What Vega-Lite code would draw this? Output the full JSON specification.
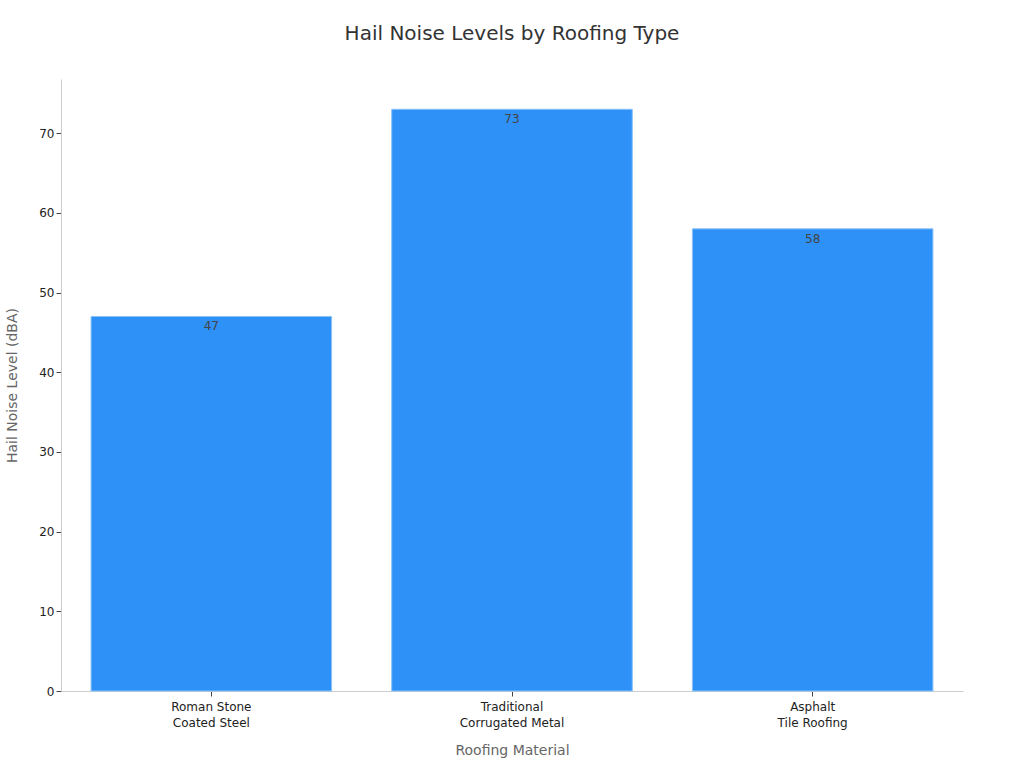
{
  "$schema": "https://vega.github.io/schema/vega-lite/v6.json",
  "width": 902,
  "height": 612,
  "padding": {"left": 5, "top": 24, "right": 5, "bottom": 5},
  "title": {"text": "Hail Noise Levels by Roofing Type", "fontSize": 20, "font": "DejaVu Sans", "fontWeight": "normal", "color": "#333333", "offset": 35},
  "data": {
    "values": [
      {"material": "Roman Stone\nCoated Steel", "noise": 47},
      {"material": "Traditional\nCorrugated Metal", "noise": 73},
      {"material": "Asphalt\nTile Roofing", "noise": 58}
    ]
  },
  "encoding": {
    "x": {
      "field": "material", "type": "nominal", "sort": null,
      "title": "Roofing Material",
      "scale": {"paddingInner": 0.2, "paddingOuter": 0.1},
      "axis": {"labelAngle": 0, "labelExpr": "split(datum.label, '\\n')", "labelLineHeight": 16, "labelPadding": 5, "titlePadding": 15}
    },
    "y": {
      "field": "noise", "type": "quantitative",
      "title": "Hail Noise Level (dBA)",
      "scale": {"domain": [0, 76.8], "nice": false},
      "axis": {"values": [0, 10, 20, 30, 40, 50, 60, 70], "grid": false, "titlePadding": 19}
    }
  },
  "layer": [
    {"mark": {"type": "bar", "color": "#2E91F8", "stroke": "#8CC3F5", "strokeWidth": 1}},
    {"mark": {"type": "text", "baseline": "middle", "dy": 10, "fontSize": 12, "color": "#444444", "font": "DejaVu Sans"},
     "encoding": {"text": {"field": "noise"}}}
  ],
  "config": {
    "view": {"stroke": null},
    "font": "DejaVu Sans",
    "axis": {
      "domainColor": "#cccccc", "tickColor": "#444444", "tickSize": 5,
      "labelColor": "#222222", "labelFontSize": 12, "labelFont": "DejaVu Sans",
      "titleColor": "#666666", "titleFontSize": 14, "titleFontWeight": "normal", "titleFont": "DejaVu Sans"
    }
  }
}
